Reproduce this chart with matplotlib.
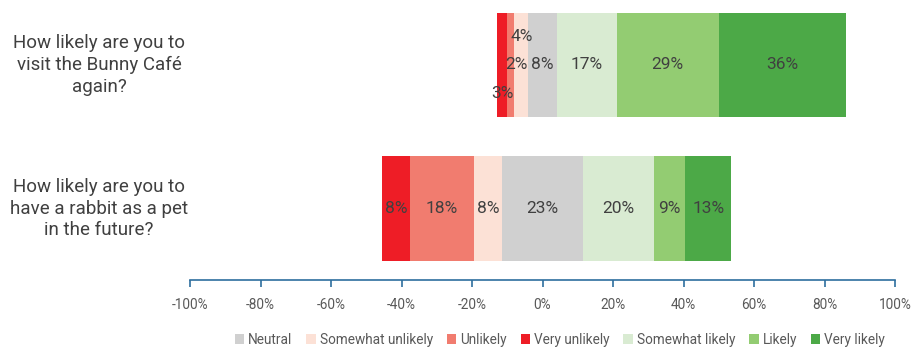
import matplotlib
matplotlib.use("Agg")
import matplotlib.pyplot as plt
from matplotlib.patches import Patch
import matplotlib.transforms as mtransforms

plt.rcParams['font.family'] = ['Roboto', 'DejaVu Sans']

questions = ["How likely are you to\nvisit the Bunny Café\nagain?",
             "How likely are you to\nhave a rabbit as a pet\nin the future?"]
very_unlikely = [3, 8]
unlikely = [2, 18]
somewhat_unlikely = [4, 8]
neutral = [8, 23]
somewhat_likely = [17, 20]
likely = [29, 9]
very_likely = [36, 13]

colors = {
    "Neutral": "#D0D0D0",
    "Somewhat unlikely": "#FCE1D6",
    "Unlikely": "#F17C6F",
    "Very unlikely": "#EE1D26",
    "Somewhat likely": "#D9EBD2",
    "Likely": "#93CC72",
    "Very likely": "#4CA947",
}
text_color = "#404040"
tick_color = "#595959"

fig = plt.figure(figsize=(9.15, 3.48), dpi=100)
ax = fig.add_axes([190/915, 68/348, 705/915, 275/348])

ypos = [1, 0]
h = 0.725
lab_fs = 12.5

# label offsets (manual placement like in the source)
label_dy = {(0, "Somewhat unlikely"): 0.2, (0, "Very unlikely"): -0.2}
label_dx = {(0, "Unlikely"): 1.5}

for i, y in enumerate(ypos):
    n = neutral[i]
    segs_neg = [("Somewhat unlikely", somewhat_unlikely[i]),
                ("Unlikely", unlikely[i]),
                ("Very unlikely", very_unlikely[i])]
    segs_pos = [("Somewhat likely", somewhat_likely[i]),
                ("Likely", likely[i]),
                ("Very likely", very_likely[i])]
    ax.barh(y, n, left=-n/2, height=h, color=colors["Neutral"])
    ax.text(0, y, f"{n}%", ha="center", va="center", fontsize=lab_fs, color=text_color)
    left = -n/2
    for name, v in segs_neg:
        left -= v
        ax.barh(y, v, left=left, height=h, color=colors[name])
        dy = label_dy.get((i, name), 0)
        dx = label_dx.get((i, name), 0)
        ax.text(left + v/2 + dx, y + dy, f"{v}%", ha="center", va="center",
                fontsize=lab_fs, color=text_color)
    left = n/2
    for name, v in segs_pos:
        ax.barh(y, v, left=left, height=h, color=colors[name])
        ax.text(left + v/2, y, f"{v}%", ha="center", va="center",
                fontsize=lab_fs, color=text_color)
        left += v

ax.set_xlim(-100, 100)
ax.set_ylim(-0.498, 1.418)
for s in ["top", "right", "left"]:
    ax.spines[s].set_visible(False)
ax.spines["bottom"].set_color("#2E6E9E")
ax.spines["bottom"].set_linewidth(1.2)
ax.set_yticks([])
ticks = list(range(-100, 101, 20))
ax.set_xticks(ticks)
ax.set_xticklabels([f"{t}%" for t in ticks], fontsize=9.8)
ax.tick_params(axis="x", colors="#2E6E9E", length=5, width=1.2, pad=8,
               labelcolor=tick_color)

trans = mtransforms.blended_transform_factory(fig.transFigure, ax.transData)
for q, y in zip(questions, ypos):
    fig.text(99/915, y, q, transform=trans, ha="center", va="center",
             fontsize=13.5, color=text_color, linespacing=1.25)

order = ["Neutral", "Somewhat unlikely", "Unlikely", "Very unlikely",
         "Somewhat likely", "Likely", "Very likely"]
handles = [Patch(facecolor=colors[k], label=k) for k in order]
fig.legend(handles=handles, loc="center", bbox_to_anchor=(560/915, 1 - 340/348),
           ncol=7, frameon=False, fontsize=9.8, handlelength=0.7, handleheight=0.7,
           handletextpad=0.3, columnspacing=1.0, labelcolor=tick_color)

fig.savefig("out.png", dpi=100)
